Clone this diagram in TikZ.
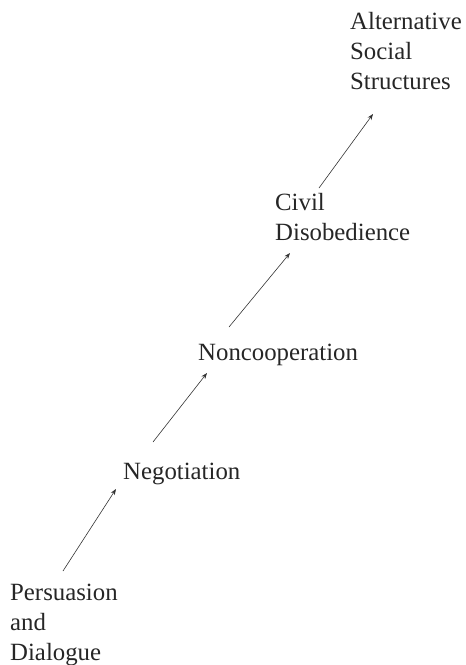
\documentclass[tikz,border=0pt]{standalone}
\usepackage{fontspec}
\setmainfont{Liberation Serif}
\usetikzlibrary{arrows.meta,calc}

\tikzset{
  stage/.style={anchor=base west, inner sep=0pt, align=left,
    font=\fontsize{24.8}{30}\selectfont, text=black!85},
  stagearrow/.style={-{Stealth[length=6pt,width=4.5pt]}, line width=0.6pt, draw=black!80}
}

\begin{document}
\begin{tikzpicture}[x=1pt, y=-1pt]
  \useasboundingbox (0,0) rectangle (466,665);

  % the five stages, bottom to top (base = baseline of the last line)
  \node[stage] (per)  at (10,660)  {Persuasion\\and\\Dialogue};
  \node[stage] (neg)  at (123,479) {Negotiation};
  \node[stage] (nonc) at (198,360) {Noncooperation};
  \node[stage] (civ)  at (275,240) {Civil\\Disobedience};
  \node[stage] (alt)  at (350,89)  {Alternative\\Social\\Structures};

  % escalation arrows between successive stages
  \draw[stagearrow] ($(per.base west)+(53,-89)$) -- ($(neg.base west)+(-7,10)$);
  \draw[stagearrow] ($(neg.base west)+(30,-37)$) -- ($(nonc.base west)+(9,13)$);
  \draw[stagearrow] ($(nonc.base west)+(31,-33)$) -- ($(civ.base west)+(15,13)$);
  \draw[stagearrow] ($(civ.base west)+(44,-52)$) -- ($(alt.base west)+(23,25)$);
\end{tikzpicture}
\end{document}
